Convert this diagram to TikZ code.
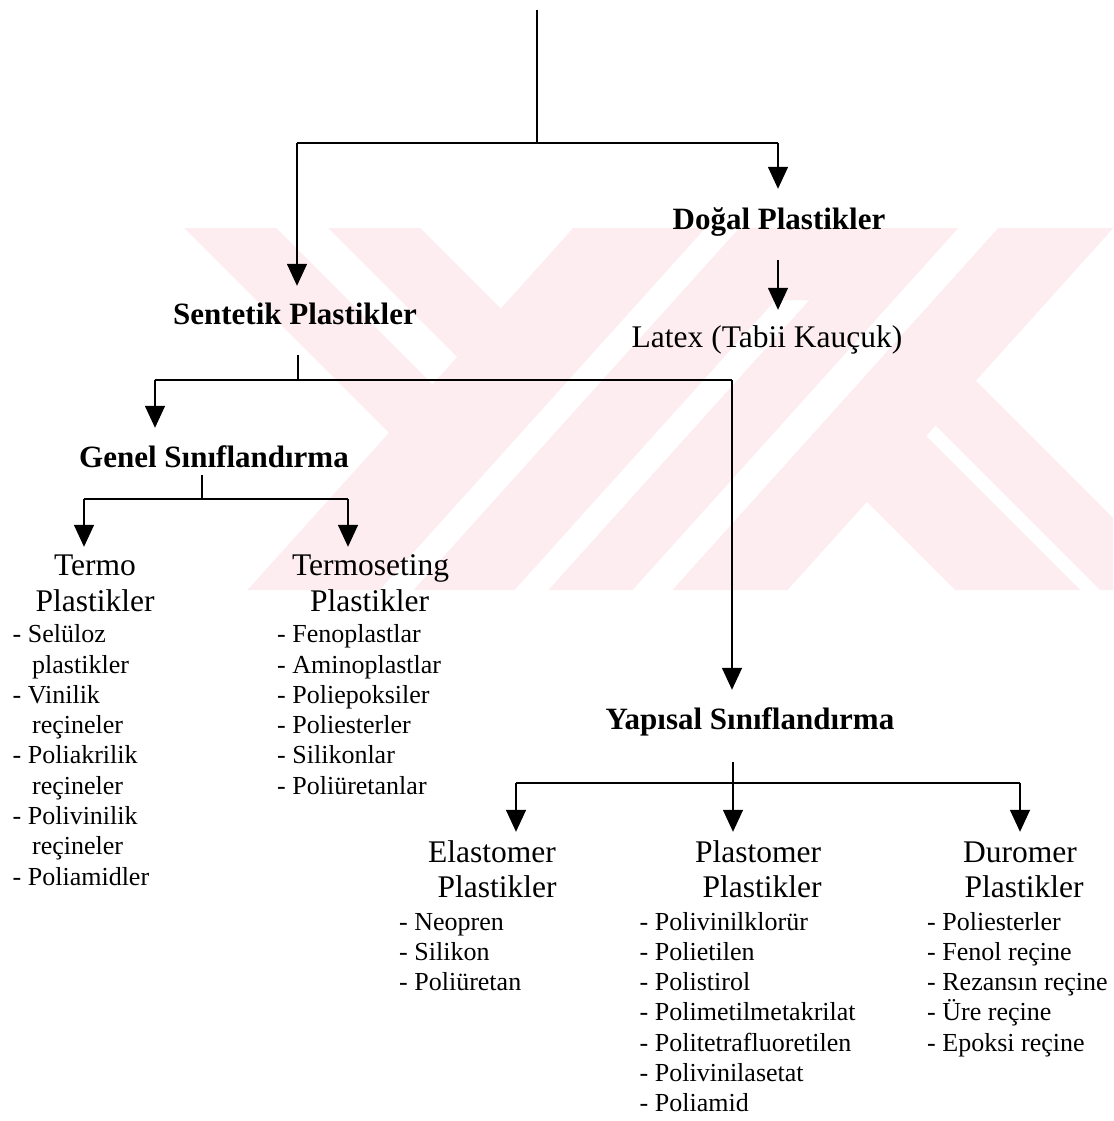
\documentclass[tikz,border=0pt]{standalone}
\usepackage{fontspec}
\setmainfont{Liberation Serif}
\usetikzlibrary{arrows.meta}
\definecolor{wm}{RGB}{253,237,241}
\tikzset{
  conn/.style={line width=1.5pt, draw=black},
  hconn/.style={line width=2.2pt, draw=black},
  arr/.style={conn, -{Triangle[length=22pt,width=20pt]}},
  bhead/.style={font=\fontsize{31}{36}\selectfont\bfseries, inner xsep=0pt, text height=22pt, text depth=7pt, inner ysep=#1, anchor=base},
  rhead/.style={font=\fontsize{31.5}{36}\selectfont, inner xsep=0pt, text height=22pt, text depth=7pt, inner ysep=#1, anchor=base},
  item/.style={font=\fontsize{26}{30}\selectfont, inner sep=0pt, anchor=base west}
}
\begin{document}
\begin{tikzpicture}[x=1pt,y=-1pt]
\fill[white] (0,0) rectangle (1113,1121);
\useasboundingbox (0,0) rectangle (1113,1121);
% watermark (faint background emblem)
\begin{scope}
\clip (150,228) rectangle (1113,590);
\begin{scope}
\clip (0,228) -- (573.3,228) -- (247.5,590) -- (0,590) -- cycle;
\fill[wm] (184,228) -- (276,228) -- (638,590) -- (546,590) -- cycle;
\fill[wm] (328,228) -- (420,228) -- (782,590) -- (690,590) -- cycle;
\end{scope}
\fill[wm] (573.3,228) -- (705.3,228) -- (379.5,590) -- (247.5,590) -- cycle;
\fill[wm] (739.3,228) -- (874.3,228) -- (809.5,300) -- (775.5,300) -- (514.5,590) -- (413.5,590) -- cycle;
\fill[wm] (874.3,228) -- (958.3,228) -- (632.5,590) -- (548.5,590) -- cycle;
\fill[wm] (998.3,228) -- (1113.3,228) -- (787.5,590) -- (672.5,590) -- cycle;
\begin{scope}
\clip (1113.3,228) -- (1200,228) -- (1200,590) -- (787.5,590) -- cycle;
\fill[wm] (593,228) -- (718,228) -- (1080,590) -- (955,590) -- cycle;
\fill[wm] (738,228) -- (823,228) -- (1185,590) -- (1100,590) -- cycle;
\end{scope}
\end{scope}

% nodes
\node[bhead=16pt] (sent) at (295,324) {Sentetik Plastikler};
\node[bhead=18pt] (dogal) at (779,229) {Doğal Plastikler};
\node[rhead=15pt] (latex) at (767,347) {Latex (Tabii Kauçuk)};
\node[bhead=17pt] (genel) at (214,467) {Genel Sınıflandırma};
\node[bhead=17pt] (yap) at (750,729) {Yapısal Sınıflandırma};

\node[rhead=6pt] (termo) at (95,575) {Termo};
\node[rhead=6pt] (termo2) at (95,611.7) {Plastikler};
\node[rhead=6pt] (tset) at (370.5,575) {Termoseting};
\node[rhead=6pt] (tset2) at (369.6,611.7) {Plastikler};

\node[rhead=8pt] (elast) at (492,862) {Elastomer};
\node[rhead=8pt] (elast2) at (497,897) {Plastikler};
\node[rhead=8pt] (plast) at (758,862) {Plastomer};
\node[rhead=8pt] (plast2) at (762,897) {Plastikler};
\node[rhead=8pt] (durom) at (1020,862) {Duromer};
\node[rhead=8pt] (durom2) at (1024,897) {Plastikler};

% lists
\foreach \x/\t [count=\i from 0] in {12.5/- Selüloz, 32/plastikler, 12.5/- Vinilik, 32/reçineler, 12.5/- Poliakrilik, 32/reçineler, 12.5/- Polivinilik, 32/reçineler, 12.5/- Poliamidler}
  \node[item] (tl\i) at (\x,{642.7+30.3*\i}) {\t};
\foreach \t [count=\i from 0] in {- Fenoplastlar, - Aminoplastlar, - Poliepoksiler, - Poliesterler, - Silikonlar, - Poliüretanlar}
  \node[item] (ts\i) at (277,{642.7+30.3*\i}) {\t};
\foreach \t [count=\i from 0] in {- Neopren, - Silikon, - Poliüretan}
  \node[item] (el\i) at (399,{930+30.3*\i}) {\t};
\foreach \t [count=\i from 0] in {- Polivinilklorür, - Polietilen, - Polistirol, - Polimetilmetakrilat, - Politetrafluoretilen, - Polivinilasetat, - Poliamid}
  \node[item] (pl\i) at (639.5,{930+30.3*\i}) {\t};
\foreach \t [count=\i from 0] in {- Poliesterler, - Fenol reçine, - Rezansın reçine, - Üre reçine, - Epoksi reçine}
  \node[item] (du\i) at (927,{930+30.3*\i}) {\t};

% junctions
\coordinate (top) at (537,10);
\coordinate (j0) at (537,143);
\coordinate (c0l) at (297,143);
\coordinate (c0r) at (778,143);
\coordinate (j1) at (298,380);
\coordinate (c1l) at (155,380);
\coordinate (c1r) at (732,380);
\coordinate (j2) at (202,499);
\coordinate (c2l) at (84,499);
\coordinate (c2r) at (348,499);
\coordinate (j3) at (733,783);
\coordinate (c3l) at (516,783);
\coordinate (c3r) at (1020,783);

% connectors
\draw[conn] (top) -- (j0);
\draw[hconn] (c0l) -- (c0r);
\draw[arr] (c0l) -- (c0l |- sent.north);
\draw[arr] (c0r) -- (c0r |- dogal.north);
\draw[arr, shorten <=6pt] (c0r |- dogal.south) -- (c0r |- latex.north);

\draw[conn, shorten <=8pt] (sent.south -| j1) -- (j1);
\draw[hconn] (c1l) -- (c1r);
\draw[arr] (c1l) -- (c1l |- genel.north);
\draw[arr] (c1r) -- (c1r |- yap.north);

\draw[conn, shorten <=-16pt] (genel.south -| j2) -- (j2);
\draw[hconn] (c2l) -- (c2r);
\draw[arr] (c2l) -- (c2l |- termo.north);
\draw[arr] (c2r) -- (c2r |- tset.north);

\draw[conn, shorten <=9pt] (yap.south -| j3) -- (j3);
\draw[hconn] (c3l) -- (c3r);
\draw[arr] (c3l) -- (c3l |- elast.north);
\draw[arr] (j3) -- (j3 |- plast.north);
\draw[arr] (c3r) -- (c3r |- durom.north);
\end{tikzpicture}
\end{document}
